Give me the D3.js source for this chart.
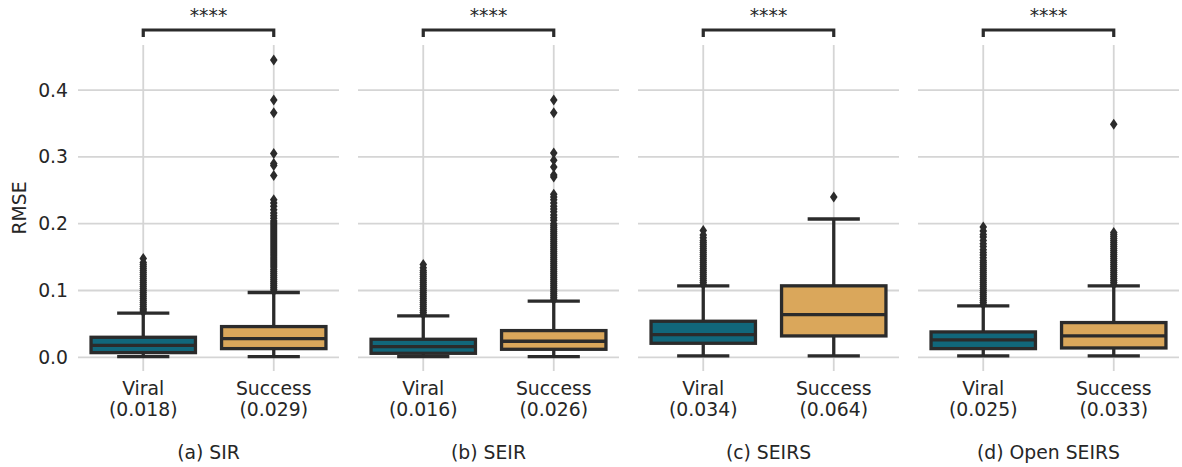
<!DOCTYPE html>
<html>
<head>
<meta charset="utf-8">
<script src="https://cdn.jsdelivr.net/npm/d3@7"></script>
<style>
  body { margin: 0; background: #fff; }
  text { font-family: "DejaVu Sans", sans-serif; fill: #262626; }
</style>
</head>
<body>
<div id="chart"></div>
<script>
// chart data
var panelTitles = ["(a) SIR", "(b) SEIR", "(c) SEIRS", "(d) Open SEIRS"];
var groups = ["Viral", "Success"];
var meanLabels = [["0.018", "0.029"], ["0.016", "0.026"], ["0.034", "0.064"], ["0.025", "0.033"]];
var yTicks = [0, 0.1, 0.2, 0.3, 0.4];
var signifLabel = "****";

// [whisker low, q1, median, q3, whisker high] per panel
var viralBox = [
  [0.001, 0.007, 0.018, 0.030, 0.066],
  [0.001, 0.006, 0.016, 0.027, 0.062],
  [0.002, 0.021, 0.034, 0.054, 0.107],
  [0.002, 0.013, 0.026, 0.038, 0.077]
];
var successBox = [
  [0.001, 0.013, 0.028, 0.046, 0.097],
  [0.001, 0.012, 0.024, 0.040, 0.084],
  [0.002, 0.032, 0.064, 0.107, 0.207],
  [0.002, 0.014, 0.032, 0.052, 0.107]
];

var viralOutliers = [
  [0.068, 0.071, 0.073, 0.076, 0.079, 0.082, 0.085, 0.088, 0.091, 0.094, 0.097, 0.100, 0.103, 0.106,
   0.109, 0.112, 0.115, 0.118, 0.121, 0.124, 0.127, 0.130, 0.133, 0.136, 0.139, 0.142, 0.148],
  [0.064, 0.067, 0.070, 0.073, 0.076, 0.079, 0.082, 0.085, 0.088, 0.091, 0.094, 0.097, 0.100, 0.103,
   0.106, 0.109, 0.112, 0.115, 0.118, 0.121, 0.124, 0.127, 0.130, 0.134, 0.139],
  [0.109, 0.112, 0.115, 0.118, 0.121, 0.124, 0.127, 0.130, 0.133, 0.136, 0.139, 0.142, 0.145, 0.148,
   0.151, 0.154, 0.157, 0.160, 0.163, 0.166, 0.169, 0.172, 0.175, 0.179, 0.183, 0.190],
  [0.079, 0.082, 0.085, 0.088, 0.091, 0.094, 0.097, 0.100, 0.103, 0.106, 0.109, 0.112, 0.115, 0.118,
   0.121, 0.124, 0.127, 0.130, 0.133, 0.136, 0.139, 0.142, 0.145, 0.149, 0.153, 0.157, 0.161, 0.166,
   0.170, 0.175, 0.180, 0.184, 0.189, 0.195]
];
var successOutliers = [
  [0.099, 0.102, 0.105, 0.108, 0.111, 0.114, 0.117, 0.120, 0.123, 0.126, 0.129, 0.132, 0.135, 0.138,
   0.141, 0.144, 0.147, 0.150, 0.153, 0.156, 0.159, 0.162, 0.165, 0.168, 0.171, 0.174, 0.177, 0.180,
   0.183, 0.186, 0.189, 0.192, 0.195, 0.198, 0.201, 0.204, 0.208, 0.212, 0.216, 0.221, 0.226, 0.231,
   0.236, 0.272, 0.287, 0.290, 0.305, 0.366, 0.385, 0.445],
  [0.086, 0.089, 0.092, 0.095, 0.098, 0.101, 0.104, 0.107, 0.110, 0.113, 0.116, 0.119, 0.122, 0.125,
   0.128, 0.131, 0.134, 0.137, 0.140, 0.143, 0.146, 0.149, 0.152, 0.155, 0.158, 0.161, 0.164, 0.167,
   0.170, 0.173, 0.176, 0.179, 0.182, 0.185, 0.188, 0.191, 0.194, 0.197, 0.200, 0.205, 0.209, 0.213,
   0.218, 0.222, 0.226, 0.231, 0.236, 0.240, 0.244, 0.270, 0.273, 0.285, 0.295, 0.306, 0.366, 0.385],
  [0.240],
  [0.109, 0.112, 0.115, 0.118, 0.121, 0.124, 0.127, 0.130, 0.133, 0.136, 0.139, 0.142, 0.145, 0.148,
   0.151, 0.154, 0.157, 0.160, 0.163, 0.166, 0.169, 0.172, 0.175, 0.178, 0.181, 0.184, 0.187, 0.349]
];

var colors = ["#11677b", "#daa75b"];
var lineColor = "#2b2b2b";
var gridColor = "#d5d5d5";
var fontSize = "18.8px";

var W = 1182, H = 467;
var panelLeft = 78, panelWidth = 261, panelStep = 280;

var svg = d3.select("#chart").append("svg")
  .attr("width", W)
  .attr("height", H);

var y = d3.scaleLinear().domain([-0.0205, 0.4675]).range([371, 45]);

// y tick labels (only on the first panel)
svg.append("g")
  .attr("transform", "translate(" + panelLeft + ",0)")
  .call(d3.axisLeft(y).tickValues(yTicks).tickFormat(d3.format(".1f")).tickSize(0).tickPadding(10))
  .call(function(g) { g.select(".domain").remove(); })
  .selectAll("text")
  .style("font-size", fontSize)
  .style("font-family", "DejaVu Sans")
  .attr("fill", "#262626");

svg.append("text")      // y-axis label
  .attr("transform", "translate(19," + ((y.range()[0] + y.range()[1]) / 2) + ") rotate(-90)")
  .attr("text-anchor", "middle")
  .attr("dominant-baseline", "central")
  .style("font-size", fontSize)
  .text("RMSE");

panelTitles.forEach(function(title, i) {
  var x0 = panelLeft + i * panelStep;
  var x = d3.scaleBand().domain(groups).range([x0, x0 + panelWidth]);
  var bw = x.bandwidth();
  var boxW = bw * 0.8;
  var capW = bw * 0.4;
  var g = svg.append("g");

  // horizontal grid
  g.selectAll(".hgrid").data(yTicks).enter().append("line")
    .attr("x1", x0).attr("x2", x0 + panelWidth)
    .attr("y1", function(d) { return y(d); }).attr("y2", function(d) { return y(d); })
    .attr("stroke", gridColor).attr("stroke-width", 1.8);

  // vertical grid
  g.selectAll(".vgrid").data(groups).enter().append("line")
    .attr("x1", function(d) { return x(d) + bw / 2; })
    .attr("x2", function(d) { return x(d) + bw / 2; })
    .attr("y1", y.range()[0]).attr("y2", y.range()[1])
    .attr("stroke", gridColor).attr("stroke-width", 1.8);

  var stats = [viralBox[i], successBox[i]];
  var outs = [viralOutliers[i], successOutliers[i]];

  groups.forEach(function(grp, j) {
    var s = stats[j];
    var cx = x(grp) + bw / 2;

    // whiskers
    g.append("line").attr("x1", cx).attr("x2", cx)
      .attr("y1", y(s[0])).attr("y2", y(s[1]))
      .attr("stroke", lineColor).attr("stroke-width", 3.3);
    g.append("line").attr("x1", cx).attr("x2", cx)
      .attr("y1", y(s[3])).attr("y2", y(s[4]))
      .attr("stroke", lineColor).attr("stroke-width", 3.3);
    // caps
    [s[0], s[4]].forEach(function(v) {
      g.append("line")
        .attr("x1", cx - capW / 2).attr("x2", cx + capW / 2)
        .attr("y1", y(v)).attr("y2", y(v))
        .attr("stroke", lineColor).attr("stroke-width", 3.3);
    });

    // box
    g.append("rect")
      .attr("x", cx - boxW / 2).attr("width", boxW)
      .attr("y", y(s[3])).attr("height", y(s[1]) - y(s[3]))
      .attr("fill", colors[j])
      .attr("stroke", lineColor).attr("stroke-width", 3.3);
    // median
    g.append("line")
      .attr("x1", cx - boxW / 2).attr("x2", cx + boxW / 2)
      .attr("y1", y(s[2])).attr("y2", y(s[2]))
      .attr("stroke", lineColor).attr("stroke-width", 3.3);

    // outliers as thin diamonds
    g.selectAll(".out" + j).data(outs[j]).enter().append("path")
      .attr("d", function(d) {
        var py = y(d);
        return "M" + cx + "," + (py - 5.5) + "L" + (cx + 3.8) + "," + py +
               "L" + cx + "," + (py + 5.5) + "L" + (cx - 3.8) + "," + py + "Z";
      })
      .attr("fill", lineColor);

    // category labels
    var lbl = g.append("text")
      .attr("x", cx)
      .attr("text-anchor", "middle")
      .style("font-size", fontSize);
    lbl.append("tspan").attr("x", cx).attr("y", 395).text(grp);
    lbl.append("tspan").attr("x", cx).attr("y", 416).text("(" + meanLabels[i][j] + ")");
  });

  // significance bracket
  var xa = x(groups[0]) + bw / 2, xb = x(groups[1]) + bw / 2;
  g.append("path")
    .attr("d", "M" + xa + ",37L" + xa + ",30L" + xb + ",30L" + xb + ",37")
    .attr("fill", "none")
    .attr("stroke", lineColor).attr("stroke-width", 3.2);
  g.append("text")
    .attr("x", (xa + xb) / 2).attr("y", 22)
    .attr("text-anchor", "middle")
    .style("font-size", fontSize)
    .text(signifLabel);

  // panel title
  g.append("text")
    .attr("x", x0 + panelWidth / 2).attr("y", 459)
    .attr("text-anchor", "middle")
    .style("font-size", fontSize)
    .text(title);
});
</script>
</body>
</html>
